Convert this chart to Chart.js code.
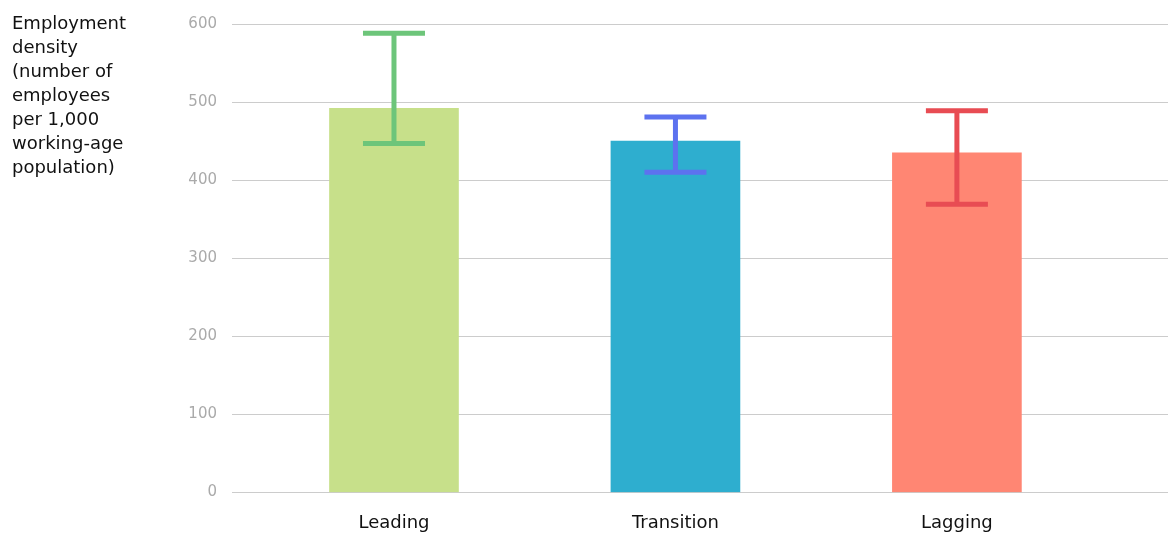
<!DOCTYPE html>
<html>
<head>
<meta charset="utf-8">
<script src="https://cdn.jsdelivr.net/npm/chart.js@4/dist/chart.umd.min.js"></script>
<style>
  html, body { margin: 0; padding: 0; background: #fff; }
  #wrap { width: 1168px; height: 538px; position: relative; }
</style>
</head>
<body>
<div id="wrap"><canvas id="chart"></canvas></div>
<script>
const categories = ['Leading', 'Transition', 'Lagging'];
const values = [492, 450, 435];
const errLow = [447, 410, 369];
const errHigh = [588, 481, 489];
const yTicks = [0, 100, 200, 300, 400, 500, 600];
const yTitle = ['Employment', 'density', '(number of', 'employees', 'per 1,000', 'working-age', 'population)'];

const barColors = ['#c7e08a', '#2eaecf', '#ff8673'];
const errColors = ['#6dc57a', '#5d72ef', '#e84c53'];
const FONT = '"DejaVu Sans", sans-serif';

const errorBars = {
    id: 'errorBars',
    afterDatasetsDraw(chart) {
        const ctx = chart.ctx;
        const x = chart.scales.x;
        const y = chart.scales.y;
        ctx.save();
        ctx.lineWidth = 5;
        categories.forEach((c, i) => {
            const px = x.getPixelForValue(i);
            const top = y.getPixelForValue(errHigh[i]);
            const bot = y.getPixelForValue(errLow[i]);
            ctx.strokeStyle = errColors[i];
            ctx.beginPath();
            ctx.moveTo(px, top);
            ctx.lineTo(px, bot);
            ctx.moveTo(px - 31, top);
            ctx.lineTo(px + 31, top);
            ctx.moveTo(px - 31, bot);
            ctx.lineTo(px + 31, bot);
            ctx.stroke();
        });
        ctx.restore();
    }
};

const axisTitle = {
    id: 'axisTitle',
    afterDraw(chart) {
        const ctx = chart.ctx;
        ctx.save();
        ctx.fillStyle = '#111';
        ctx.font = '18px ' + FONT;
        ctx.textBaseline = 'middle';
        yTitle.forEach((line, i) => {
            ctx.fillText(line, 12, 24 + i * 24);
        });
        ctx.restore();
    }
};

const onload = () => {
    const ctx = document.getElementById('chart').getContext('2d');
    new Chart(ctx, {
        type: 'bar',
        data: {
            datasets: [{
                data: values.map((v, i) => ({ x: i, y: v })),
                backgroundColor: barColors,
                barThickness: 129
            }]
        },
        options: {
            responsive: true,
            maintainAspectRatio: false,
            animation: false,
            layout: { padding: { top: 20, right: 0, left: 0, bottom: 0 } },
            plugins: {
                legend: { display: false },
                tooltip: { enabled: false }
            },
            scales: {
                x: {
                    type: 'linear',
                    offset: false,
                    min: -0.5755,
                    max: 2.75,
                    afterBuildTicks: (s) => { s.ticks = categories.map((c, i) => ({ value: i })); },
                    afterFit: (s) => { s.height = 45.5; },
                    grid: { display: false, drawTicks: false },
                    border: { display: false },
                    ticks: {
                        padding: 20,
                        color: '#111',
                        font: { family: FONT, size: 18 },
                        maxRotation: 0,
                        autoSkip: false,
                        callback: (v) => categories[v]
                    }
                },
                y: {
                    min: 0,
                    max: 600,
                    afterBuildTicks: (s) => { s.ticks = yTicks.map(v => ({ value: v })); },
                    afterFit: (s) => { s.width = 232; },
                    grid: { color: '#cccccc', lineWidth: 1, drawTicks: false },
                    border: { display: false },
                    ticks: {
                        padding: 15,
                        color: '#aaaaaa',
                        font: { family: FONT, size: 15 }
                    }
                }
            }
        },
        plugins: [errorBars, axisTitle]
    });
};

document.addEventListener('DOMContentLoaded', onload);
</script>
</body>
</html>
